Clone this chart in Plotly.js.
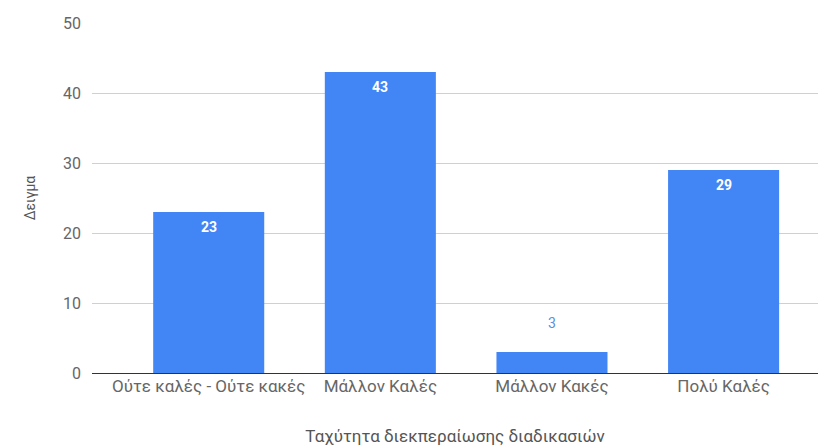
<!DOCTYPE html>
<html>
<head>
<meta charset="utf-8">
<script src="https://cdn.plot.ly/plotly-3.0.1.min.js"></script>
<style>html,body{margin:0;padding:0;background:#fff;}</style>
</head>
<body>
<div id="chart" style="width:826px;height:446px;"></div>
<script>
const categories = ["Ούτε καλές - Ούτε κακές", "Μάλλον Καλές", "Μάλλον Κακές", "Πολύ Καλές"];
const values = [23, 43, 3, 29];
const yTicks = [0, 10, 20, 30, 40, 50];

const annotations = values.map(function (v, i) {
  const inside = v > 6;
  return {
    x: categories[i], y: v, xref: 'x', yref: 'y',
    text: inside ? '<b>' + v + '</b>' : String(v),
    showarrow: false,
    yanchor: inside ? 'top' : 'bottom',
    yshift: inside ? -5 : 19,
    font: {family: 'Roboto, sans-serif', size: 14, color: inside ? '#ffffff' : '#5b8fe0'}
  };
});

const trace = {
  type: 'bar', x: categories, y: values,
  marker: {color: '#4285f4'},
  hoverinfo: 'skip'
};

const layout = {
  width: 826, height: 446,
  margin: {l: 92, r: 8, t: 23, b: 73},
  paper_bgcolor: '#fff', plot_bgcolor: '#fff',
  bargap: 0.353,
  showlegend: false,
  font: {family: 'Roboto, sans-serif', color: '#444', size: 13},
  xaxis: {
    type: 'category', range: [-0.68, 3.55],
    showgrid: false, showline: false, ticks: '',
    tickfont: {size: 17, color: '#666'},
    ticklabelstandoff: 1,
    title: {text: 'Ταχύτητα διεκπεραίωσης διαδικασιών', font: {size: 17, color: '#555'}, standoff: 35}
  },
  yaxis: {
    range: [0, 50], tickvals: yTicks, ticktext: yTicks.map(String),
    showgrid: true, gridcolor: '#d0d0d0', gridwidth: 1,
    zeroline: true, zerolinecolor: '#333', zerolinewidth: 1,
    ticks: '', ticklen: 0,
    ticklabelstandoff: 10,
    tickfont: {size: 16, color: '#666'},
    title: {text: 'Δειγμα', font: {size: 14, color: '#555'}, standoff: 24}
  },
  annotations: annotations
};

Plotly.newPlot('chart', [trace], layout, {displayModeBar: false, staticPlot: true});
</script>
</body>
</html>
